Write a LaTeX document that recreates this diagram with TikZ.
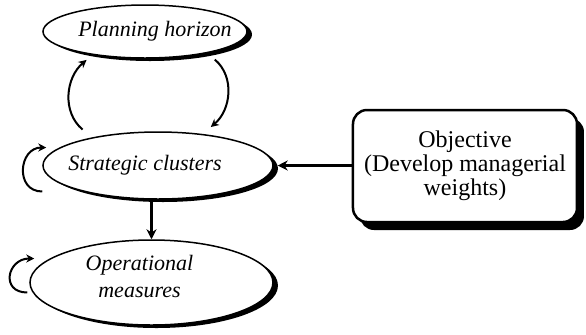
\documentclass[tikz,border=0pt]{standalone}
\usepackage{fontspec}
\setmainfont{Liberation Serif}
\usetikzlibrary{arrows.meta,shadows,shapes.geometric,positioning}

\tikzset{
    oval/.style={ellipse, draw, line width=0.75pt, fill=white,
        drop shadow={shadow xshift=2.5pt, shadow yshift=-1.5pt, fill=black, opacity=1}},
    ovaltext/.style={font=\itshape\fontsize{11}{13.5}\selectfont, align=center, inner sep=0pt},
    objbox/.style={draw, rounded corners=7pt, line width=1.25pt, fill=white,
        minimum width=112pt, minimum height=56pt, align=center,
        font=\fontsize{12}{10.5}\selectfont,
        drop shadow={shadow xshift=3.5pt, shadow yshift=-4pt, fill=black, opacity=1}},
    bigarrow/.style={-{Stealth[length=5pt,width=5pt]}, line width=1.5pt},
    looparrow/.style={-{Stealth[length=4pt,width=4pt]}, line width=1pt}
}

\begin{document}
\begin{tikzpicture}[x=0.5pt,y=-0.5pt]
\useasboundingbox (0,0) rectangle (586,334);

% the three levels
\node[oval, minimum width=102pt, minimum height=26.5pt,
      label={[ovaltext, xshift=5pt]center:Planning horizon}] (plan) at (145,31.5) {};
\node[oval, minimum width=115pt, minimum height=33.5pt,
      label={[ovaltext, xshift=-6.5pt]center:Strategic clusters}] (strat) at (158,165.5) {};
\node[oval, minimum width=121.5pt, minimum height=42.5pt,
      label={[ovaltext, xshift=-6pt, yshift=3pt]center:Operational\\measures}] (oper) at (151.5,282.5) {};

% objective
\node[objbox] (obj) at (465,166) {Objective\\(Develop managerial\\weights)};

% links
\draw[bigarrow] (obj.west |- strat.east) -- ([xshift=2pt]strat.east);
\draw[bigarrow] (strat.south -| oper.north) -- (oper.north);
\draw[looparrow] ([yshift=5pt]strat.161) to[out=140,in=220,looseness=1] ([yshift=-3pt]plan.201);
\draw[looparrow] ([yshift=-4pt]plan.-16) to[out=-40,in=40,looseness=1] ([yshift=4pt]strat.30);

% feedback loops
\draw[looparrow] ([yshift=-13pt]strat.west) to[out=180,in=180,looseness=1.6] ([xshift=2pt,yshift=9pt]strat.west);
\draw[looparrow] ([xshift=-1pt,yshift=-5pt]oper.west) to[out=180,in=180,looseness=2] ([xshift=2.5pt,yshift=12pt]oper.west);
\end{tikzpicture}
\end{document}
